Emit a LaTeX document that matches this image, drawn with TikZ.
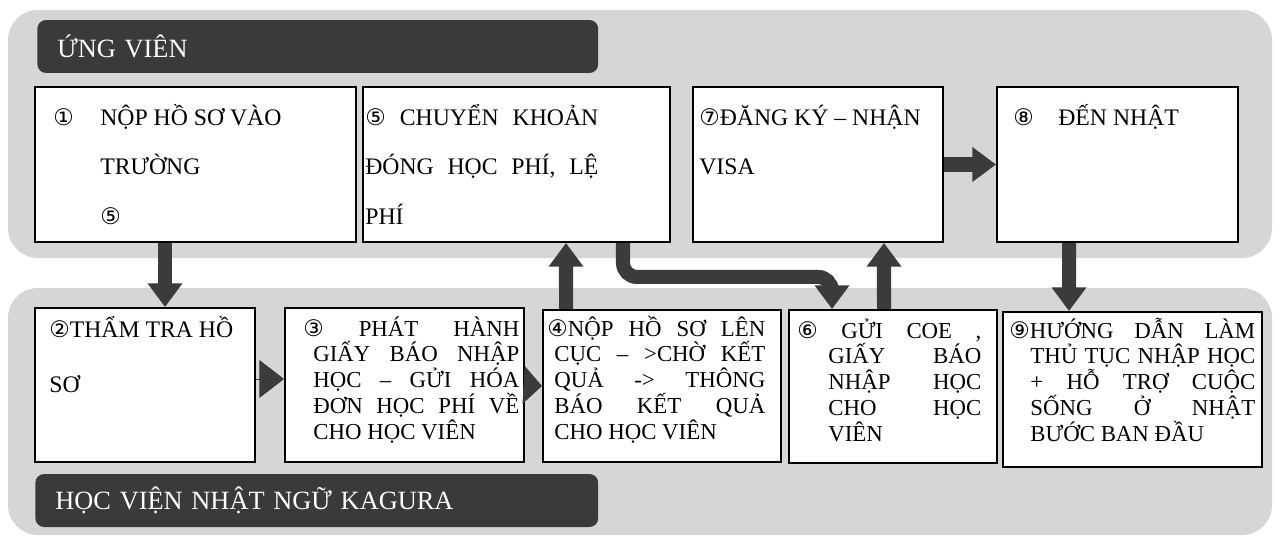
\documentclass[tikz,border=0pt]{standalone}
\usepackage{fontspec}
\setmainfont{Liberation Serif}
\newfontfamily\circfont{DejaVu Sans}
\usetikzlibrary{arrows.meta,positioning,fit}
\definecolor{kgpanel}{HTML}{D6D6D6}
\definecolor{kgdark}{HTML}{3A3A3A}
\definecolor{kgarrow}{HTML}{3B3B3B}
\newlength\jind
\newcommand{\circd}[1]{{\circfont\fontsize{13}{13}\selectfont #1}}
\newcommand{\jfirst}[1]{\hbox to\hsize{#1}}
\newcommand{\jrest}[1]{\hbox to\hsize{\hskip\jind #1}}
\newcommand{\jend}[1]{\hbox to\hsize{\hskip\jind #1\hfil}}
\tikzset{
  pnl/.style={fill=kgpanel, rounded corners=17pt},
  hdr/.style={fill=kgdark, rounded corners=5pt, text=white, anchor=west, align=left, font=\fontsize{15}{18}\selectfont, inner xsep=0.4cm, minimum height=1.06cm},
  bx/.style={draw=black, line width=1.1pt, fill=white, inner sep=0pt},
  big/.style={anchor=base west, inner sep=0pt, font=\fontsize{13.5}{28.3}\selectfont},
  sml/.style={anchor=base west, inner sep=0pt, font=\fontsize{13}{14.7}\selectfont},
  arr/.style={-{Triangle[width=19pt,length=13.5pt]}, line width=8pt, color=kgarrow},
  tri/.style={-{Triangle[width=21.5pt,length=14pt]}, line width=0.4pt, color=kgarrow},
}
\begin{document}
\begin{tikzpicture}[x=0.02cm, y=-0.02cm]
    \useasboundingbox (0,0) rectangle (1280,537);
    % panels
    \fill[pnl] (8,10) rectangle (1272,258);
    \fill[pnl] (8,288) rectangle (1272,535);
    \node[hdr, text width=10.42cm] (hu) at (37,46.5) {ỨNG VIÊN};
    \node[hdr, text width=10.46cm] (hk) at (35,500.5) {HỌC VIỆN NHẬT NGỮ KAGURA};
    % row 1
    \node[bx, fit={(35,87) (356,242)}] (s1) {};
    \node[bx, fit={(363,87) (670,242)}] (s5) {};
    \node[bx, fit={(693,87) (943,242)}] (s7) {};
    \node[bx, fit={(997,87) (1238,242)}] (s8) {};
    % row 2
    \node[bx, fit={(35,308) (255,462)}] (s2) {};
    \node[bx, fit={(285,308) (524,462)}] (s3) {};
    \node[bx, fit={(543,310) (781,462)}] (s4) {};
    \node[bx, fit={(789,310) (997,463)}] (s6) {};
    \node[bx, fit={(1003,312) (1262,467)}] (s9) {};
    % texts
    \node[big] (t1) at (53,125) {\vtop{\hbox{\makebox[0.94cm][l]{\circd{①}}NỘP HỒ SƠ VÀO}\hbox{\hskip0.94cm TRƯỜNG}\hbox{\hskip0.94cm\circd{⑤}}}};
    \node[big] (t5) at (365,125) {\vtop{\hsize=4.66cm \jind=0pt
      \jfirst{\circd{⑤} CHUYỂN KHOẢN}\jfirst{ĐÓNG HỌC PHÍ, LỆ}\jend{PHÍ}}};
    \node[big] (t7) at (699,125) {\vtop{\hbox{\circd{⑦}ĐĂNG KÝ – NHẬN}\hbox{VISA}}};
    \node[big] (t8) at (1013,125) {\makebox[0.9cm][l]{\circd{⑧}}ĐẾN NHẬT};
    \node[big, font=\fontsize{13.5}{31.7}\selectfont] (t2) at (49,337) {\vtop{\hbox{\circd{②}THẨM TRA HỒ}\hbox{SƠ}}};
    \node[sml] (t3) at (303,336) {\vtop{\hsize=4.32cm \jind=0.2cm
      \jfirst{\circd{③} PHÁT HÀNH}\jrest{GIẤY BÁO NHẬP}\jrest{HỌC – GỬI HÓA}\jrest{ĐƠN HỌC PHÍ VỀ}\jend{CHO HỌC VIÊN}}};
    \node[sml] (t4) at (547,336) {\vtop{\hsize=4.36cm \jind=0.14cm
      \jfirst{\circd{④}NỘP HỒ SƠ LÊN}\jrest{CỤC – >CHỜ KẾT}\jrest{QUẢ -> THÔNG}\jrest{BÁO KẾT QUẢ}\jend{CHO HỌC VIÊN}}};
    \node[sml] (t6) at (797,338) {\vtop{\hsize=3.68cm \jind=0.62cm
      \jfirst{\circd{⑥} GỬI COE ,}\jrest{GIẤY BÁO}\jrest{NHẬP HỌC}\jrest{CHO HỌC}\jend{VIÊN}}};
    \node[sml] (t9) at (1009,338) {\vtop{\hsize=4.92cm \jind=0.42cm
      \jfirst{\circd{⑨}HƯỚNG DẪN LÀM}\jrest{THỦ TỤC NHẬP HỌC}\jrest{+ HỖ TRỢ CUỘC}\jrest{SỐNG Ở NHẬT}\jend{BƯỚC BAN ĐẦU}}};
    % arrows
    \draw[arr] ([xshift=2.62cm]s1.south west) -- ([xshift=2.62cm]s2.north west);
    \draw[tri] ([yshift=0.12cm]s2.east) -- ([yshift=0.12cm]s3.west);
    \draw[tri, -{Triangle[width=21.5pt,length=10.5pt]}] (s3.east) -- (s4.west);
    \draw[arr] ([xshift=0.48cm]s4.north west) -- ([xshift=4.08cm]s5.south west);
    \draw[arr, rounded corners=8pt] ([xshift=-0.96cm]s5.south east) -- ++(0,34) -| ([xshift=0.88cm]s6.north west);
    \draw[arr] ([xshift=1.92cm]s6.north west) -- ([xshift=3.84cm]s7.south west);
    \draw[arr] (s7.east) -- (s8.west);
    \draw[arr] ([xshift=1.46cm]s8.south west) -- ([xshift=1.34cm]s9.north west);
  \end{tikzpicture}
\end{document}
